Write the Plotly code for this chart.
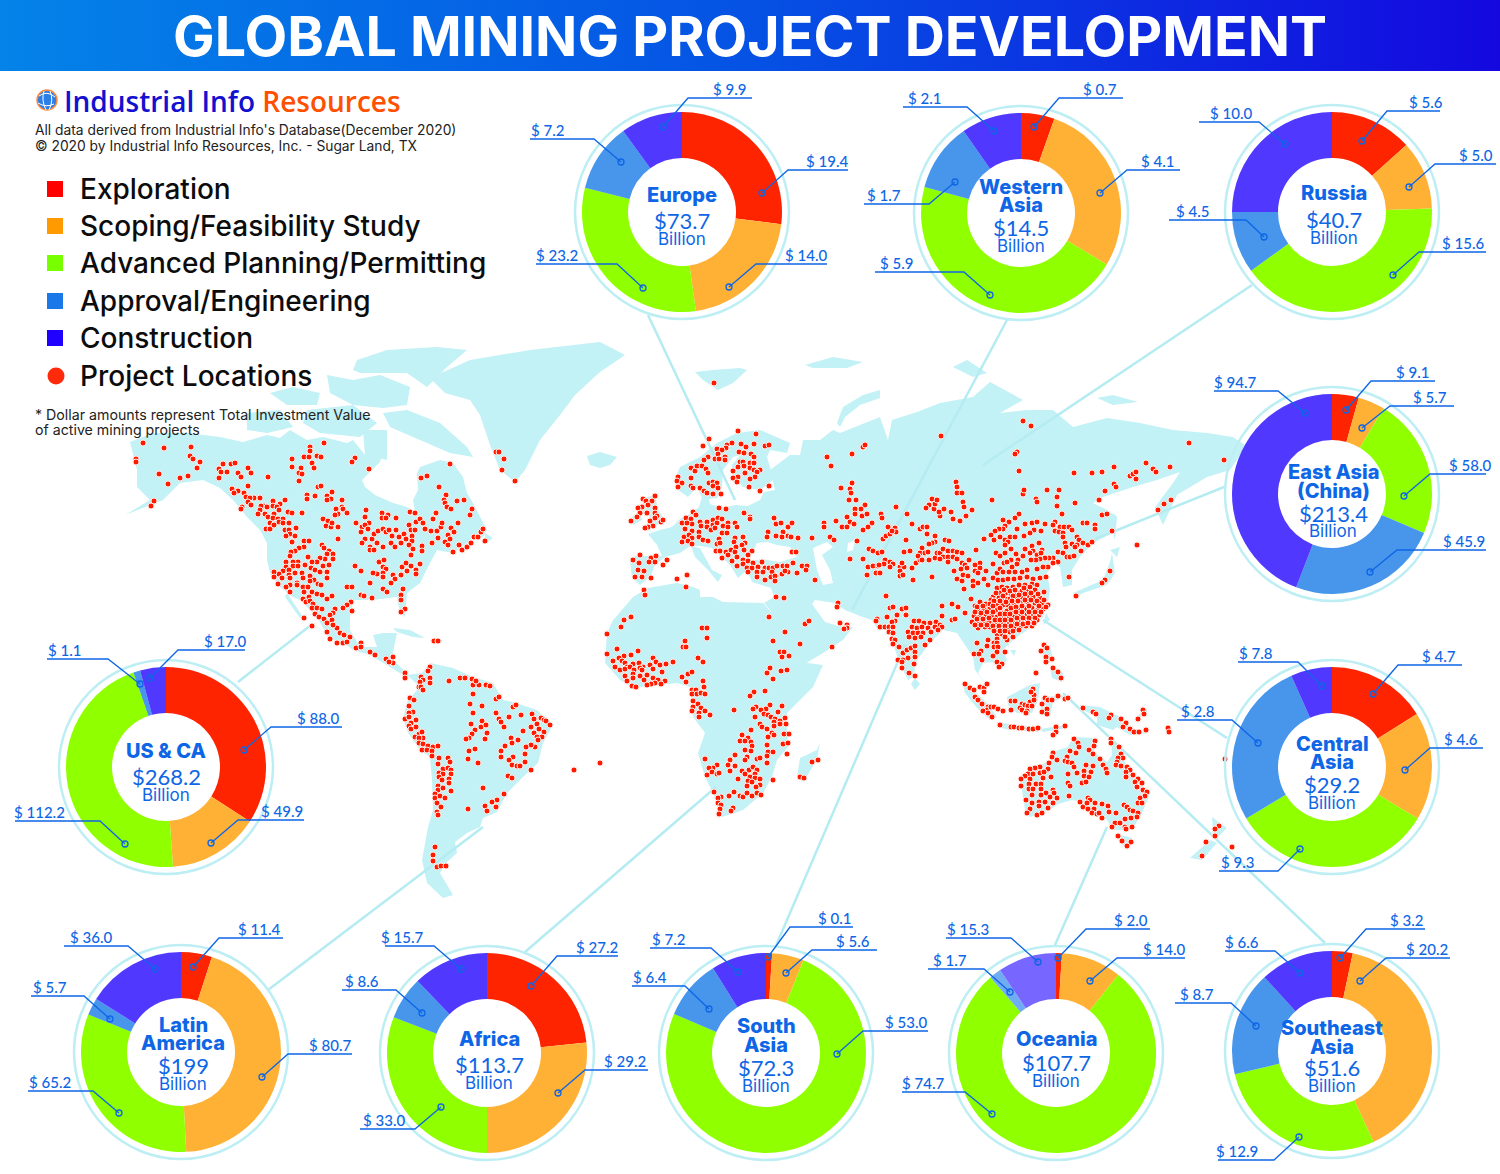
import plotly.graph_objects as go

W, H = 1500, 1174

# -- stages and money per region (billion USD), as printed
stages = ["Exploration", "Scoping/Feasibility Study", "Advanced Planning/Permitting",
          "Approval/Engineering", "Construction"]
regions = ["Europe", "Western Asia", "Russia", "East Asia (China)", "Central Asia", "US & CA",
           "Latin America", "Africa", "South Asia", "Oceania", "Southeast Asia"]
exploration = [19.4, 0.7, 5.6, 9.1, 4.7, 88.0, 11.4, 27.2, 0.1, 2.0, 3.2]
scoping = [14.0, 4.1, 5.0, 5.7, 4.6, 49.9, 80.7, 29.2, 5.6, 14.0, 20.2]
advanced = [23.2, 5.9, 15.6, 58.0, 9.3, 112.2, 65.2, 33.0, 53.0, 74.7, 12.9]
approval = [7.2, 1.7, 4.5, 45.9, 7.8, 1.1, 5.7, 8.6, 6.4, 1.7, 8.7]
construction = [9.9, 2.1, 10.0, 94.7, 2.8, 17.0, 36.0, 15.7, 7.2, 15.3, 6.6]
totals = ["$73.7", "$14.5", "$40.7", "$213.4", "$29.2", "$268.2", "$199", "$113.7", "$72.3", "$107.7", "$51.6"]

# the slices are not drawn quite to the printed numbers, so their sizes are read as
# angles off the picture: clockwise end of exploration, scoping, advanced, approval
slice_edges = [[97, 172, 284, 324], [19.5, 121, 285, 325], [48, 88, 234, 270], [15.5, 31, 113, 201],
               [58, 121, 239, 336], [123, 176, 341, 345], [18, 177, 292, 302], [84, 180, 291, 316],
               [3.5, 22, 293, 328], [3.4, 38.5, 319, 326], [12, 155.5, 256.5, 317.5]]

pie_centers = [(682, 212), (1021, 213), (1332, 212), (1332, 494), (1332, 767), (166, 767),
               (181, 1052), (487, 1053), (766, 1053), (1056, 1053), (1332, 1051)]
center_shift = [0, 0, 2, 1, 0, 0, 2, 2, 0, 0, 0]
center_titles = [["Europe"], ["Western", "Asia"], ["Russia"], ["East Asia", "(China)"], ["Central", "Asia"],
                 ["US & CA"], ["Latin", "America"], ["Africa"], ["South", "Asia"], ["Oceania"], ["Southeast", "Asia"]]
# y of each centre line: title line(s), total, "Billion"
center_rows = [[195, 220, 239], [187, 205, 227, 246], [193, 219, 238], [472, 491, 513, 531],
               [744, 762, 784, 803], [751, 776, 795], [1025, 1043, 1065, 1084], [1039, 1064, 1083],
               [1026, 1045, 1067, 1086], [1039, 1062, 1081], [1028, 1047, 1067, 1086]]

# -- callouts: text, text x, far end of underline, knee, underline y, dot x, dot y
callouts = [
    ("$ 9.9", 729, 752, 688, 98, 663, 127), ("$ 19.4", 827, 848, 788, 170, 762, 193),
    ("$ 14.0", 806, 827, 756, 264, 729, 287), ("$ 23.2", 557, 536, 617, 264, 643, 288),
    ("$ 7.2", 547, 530, 594, 139, 621, 162),
    ("$ 2.1", 924, 903, 967, 107, 994, 131), ("$ 0.7", 1100, 1123, 1059, 98, 1034, 127),
    ("$ 4.1", 1157, 1180, 1127, 170, 1100, 193), ("$ 1.7", 884, 864, 929, 204, 955, 182),
    ("$ 5.9", 896, 875, 964, 272, 990, 295),
    ("$ 10.0", 1231, 1199, 1259, 122, 1285, 144), ("$ 5.6", 1426, 1440, 1387, 111, 1362, 141),
    ("$ 5.0", 1476, 1496, 1435, 164, 1409, 187), ("$ 4.5", 1192, 1169, 1246, 220, 1264, 237),
    ("$ 15.6", 1463, 1486, 1419, 252, 1393, 275),
    ("$ 94.7", 1235, 1214, 1278, 391, 1305, 413), ("$ 9.1", 1412, 1435, 1371, 381, 1346, 410),
    ("$ 5.7", 1430, 1454, 1390, 406, 1362, 428), ("$ 58.0", 1470, 1486, 1430, 474, 1404, 496),
    ("$ 45.9", 1464, 1486, 1397, 550, 1370, 572),
    ("$ 4.7", 1439, 1462, 1398, 665, 1373, 694), ("$ 4.6", 1461, 1483, 1430, 748, 1405, 770),
    ("$ 7.8", 1256, 1238, 1298, 662, 1322, 686), ("$ 2.8", 1198, 1177, 1232, 720, 1258, 743),
    ("$ 9.3", 1237, 1219, 1278, 871, 1300, 849),
    ("$ 17.0", 225, 245, 178, 650, 150, 678), ("$ 1.1", 64, 47, 108, 659, 140, 684),
    ("$ 88.0", 318, 342, 271, 727, 244, 750), ("$ 49.9", 282, 304, 238, 820, 211, 843),
    ("$ 112.2", 39, 15, 100, 821, 125, 844),
    ("$ 36.0", 91, 64, 128, 946, 155, 969), ("$ 11.4", 259, 283, 219, 938, 193, 967),
    ("$ 5.7", 50, 31, 84, 996, 110, 1019), ("$ 80.7", 330, 352, 288, 1054, 262, 1077),
    ("$ 65.2", 50, 28, 93, 1091, 119, 1113),
    ("$ 15.7", 402, 385, 434, 946, 461, 969), ("$ 27.2", 597, 618, 557, 956, 531, 986),
    ("$ 8.6", 362, 342, 396, 990, 422, 1013), ("$ 29.2", 625, 648, 585, 1070, 558, 1093),
    ("$ 33.0", 384, 360, 415, 1129, 441, 1107),
    ("$ 0.1", 834, 853, 790, 927, 768, 957), ("$ 5.6", 853, 877, 812, 950, 786, 973),
    ("$ 7.2", 668, 650, 711, 948, 738, 972), ("$ 6.4", 650, 632, 685, 986, 709, 1009),
    ("$ 53.0", 906, 928, 863, 1031, 837, 1054), ("$ 74.7", 923, 902, 965, 1092, 992, 1114),
    ("$ 15.3", 968, 946, 1011, 938, 1038, 962), ("$ 2.0", 1131, 1150, 1086, 929, 1058, 958),
    ("$ 14.0", 1164, 1185, 1117, 958, 1090, 981), ("$ 1.7", 950, 928, 984, 969, 1010, 992),
    ("$ 6.6", 1242, 1225, 1275, 951, 1300, 973), ("$ 3.2", 1406, 1425, 1366, 929, 1340, 958),
    ("$ 20.2", 1427, 1450, 1386, 958, 1360, 981), ("$ 8.7", 1197, 1175, 1231, 1003, 1256, 1026),
    ("$ 12.9", 1237, 1218, 1274, 1160, 1299, 1137),
]

# -- pale lines tying each donut to its region
connectors = [[(648, 315), (735, 500)], [(1007, 320), (852, 610)], [(1252, 285), (983, 465)],
              [(1224, 487), (1095, 539)], [(1227, 738), (1043, 620)], [(238, 682), (311, 625)],
              [(268, 990), (483, 827)], [(525, 952), (716, 787)], [(775, 948), (905, 645)],
              [(1055, 945), (1107, 827)], [(1325, 943), (1063, 693)]]

# -- land outlines in page pixels
land = [
    # north america
    [(130, 442), (153, 433), (187, 433), (220, 437), (243, 442), (267, 435), (280, 438), (290, 430), (307, 440),
     (323, 437), (347, 443), (353, 440), (365, 455), (383, 450), (380, 462), (362, 480), (365, 487), (375, 495),
     (393, 503), (407, 507), (415, 512), (413, 500), (418, 490), (417, 473), (420, 467), (440, 460), (453, 463),
     (463, 477), (467, 493), (473, 503), (487, 530), (483, 537), (473, 537), (467, 543), (453, 553), (437, 550),
     (430, 563), (420, 583), (407, 593), (405, 617), (400, 613), (397, 597), (373, 600), (353, 600), (350, 617),
     (350, 630), (360, 647), (377, 647), (373, 635), (383, 633), (397, 633), (393, 652), (393, 660), (407, 673),
     (408, 680), (403, 675), (390, 667), (370, 655), (353, 650), (340, 640), (330, 640), (317, 617), (300, 600),
     (293, 597), (280, 587), (270, 573), (267, 560), (267, 543), (260, 530), (247, 517), (233, 500), (220, 488),
     (203, 480), (180, 483), (163, 500), (125, 515), (150, 500), (137, 487), (137, 470)],
    [(287, 593), (303, 617), (300, 618), (285, 597)],
    [(357, 360), (387, 350), (437, 347), (467, 350), (447, 367), (427, 387), (407, 373), (380, 373), (360, 373), (353, 370)],
    [(270, 393), (293, 387), (320, 393), (317, 405), (287, 405)],
    [(327, 375), (353, 380), (380, 375), (410, 387), (407, 405), (383, 408), (353, 405), (330, 393)],
    [(383, 413), (407, 410), (440, 423), (467, 447), (473, 457), (450, 453), (420, 440), (390, 427)],
    [(307, 410), (353, 405), (377, 423), (360, 437), (320, 433), (303, 423)],
    [(247, 413), (280, 410), (293, 427), (267, 433), (247, 430)],
    [(363, 430), (387, 430), (387, 460), (365, 455)],
    [(485, 533), (493, 538), (485, 543)],
    [(393, 628), (410, 630), (425, 638), (413, 637), (397, 632)],
    [(430, 640), (443, 640), (440, 644), (432, 644)],
    # greenland, iceland
    [(430, 378), (470, 360), (530, 350), (600, 342), (625, 355), (600, 372), (575, 395), (560, 415), (540, 440),
     (525, 470), (515, 482), (500, 470), (490, 445), (480, 415), (470, 400), (445, 393)],
    [(587, 456), (600, 452), (617, 457), (610, 465), (600, 468), (590, 465)],
    # south america
    [(407, 675), (422, 673), (430, 663), (453, 668), (473, 677), (493, 683), (503, 700), (513, 702), (537, 710),
     (553, 725), (543, 743), (538, 763), (523, 777), (507, 793), (497, 812), (483, 818), (480, 827), (467, 833),
     (455, 842), (457, 853), (447, 862), (440, 873), (453, 895), (443, 898), (427, 883), (422, 860), (428, 827),
     (433, 810), (432, 780), (430, 757), (420, 750), (408, 733), (403, 718), (408, 700), (420, 687)],
    # africa
    [(615, 618), (633, 597), (648, 588), (677, 583), (693, 587), (700, 590), (700, 597), (713, 597), (723, 602),
     (763, 603), (787, 630), (800, 662), (823, 665), (813, 687), (787, 713), (787, 723), (788, 747), (777, 760),
     (772, 777), (763, 793), (743, 810), (722, 817), (713, 793), (705, 777), (698, 753), (705, 733), (693, 717),
     (690, 687), (677, 683), (657, 685), (633, 688), (620, 680), (605, 663), (607, 633), (613, 620)],
    [(820, 742), (817, 760), (803, 782), (797, 777), (800, 758), (817, 750)],
    # eurasia
    [(632, 578), (630, 560), (635, 556), (655, 556), (662, 556), (657, 545), (648, 534), (660, 530), (672, 527),
     (680, 519), (693, 512), (699, 507), (702, 497), (708, 492), (710, 504), (722, 508), (736, 505), (748, 506),
     (760, 500), (764, 492), (775, 490), (770, 470), (790, 455), (800, 455), (803, 440), (820, 440), (833, 430),
     (840, 433), (860, 425), (880, 417), (888, 440), (892, 420), (917, 412), (940, 403), (973, 397), (990, 382),
     (1023, 400), (1000, 413), (1027, 410), (1053, 410), (1073, 427), (1107, 418), (1140, 423), (1173, 430),
     (1207, 433), (1233, 437), (1245, 445), (1240, 455), (1230, 470), (1207, 477), (1177, 495), (1163, 525),
     (1155, 507), (1173, 483), (1180, 472), (1157, 480), (1133, 487), (1103, 497), (1093, 503), (1107, 510),
     (1117, 517), (1112, 533), (1093, 543), (1080, 557), (1072, 570), (1072, 585), (1063, 587), (1060, 567),
     (1053, 563), (1047, 573), (1050, 590), (1048, 603), (1043, 617), (1027, 630), (1013, 640), (1003, 650),
     (1007, 660), (1000, 670), (992, 662), (983, 663), (978, 673), (988, 687), (975, 670), (973, 657), (957, 633),
     (943, 630), (930, 643), (917, 660), (913, 677), (908, 680), (900, 665), (892, 640), (888, 630), (878, 630),
     (872, 620), (860, 616), (845, 610), (835, 603), (815, 600), (812, 604), (825, 622), (838, 626), (853, 627),
     (843, 640), (823, 653), (803, 665), (798, 660), (787, 637), (770, 610), (764, 603), (774, 597), (771, 588),
     (752, 582), (747, 570), (738, 578), (730, 565), (712, 548), (700, 546), (690, 546), (680, 553), (665, 557),
     (655, 565), (650, 577), (640, 585)],
    # scandinavia
    [(675, 478), (680, 467), (700, 457), (717, 443), (737, 433), (760, 430), (790, 443), (787, 453), (770, 450),
     (767, 457), (770, 467), (773, 480), (760, 490), (743, 487), (733, 477), (732, 465), (740, 455), (733, 457),
     (723, 470), (722, 487), (717, 498), (703, 500), (697, 487), (688, 497), (678, 490)],
    [(691, 546), (700, 548), (712, 570), (722, 575), (718, 582), (708, 570), (695, 557)],
    [(643, 498), (655, 495), (658, 510), (665, 520), (657, 525), (645, 530), (650, 517), (642, 512)],
    [(632, 517), (640, 510), (642, 520), (633, 525)],
    [(695, 372), (713, 370), (740, 368), (747, 370), (733, 383), (718, 390), (703, 380)],
    [(805, 365), (833, 357), (863, 362), (847, 368), (813, 368)],
    [(953, 367), (967, 360), (987, 373), (973, 377)],
    [(1097, 398), (1113, 395), (1138, 402), (1113, 405)],
    [(837, 423), (843, 407), (863, 395), (880, 390), (880, 398), (860, 405), (845, 417), (840, 427)],
    # japan, sakhalin and the small ones
    [(1073, 593), (1103, 580), (1110, 562), (1112, 553), (1115, 573), (1107, 585), (1083, 593), (1075, 598)],
    [(1110, 550), (1120, 547), (1117, 557)],
    [(1113, 513), (1117, 517), (1115, 540), (1112, 530)],
    [(1046, 613), (1050, 620), (1043, 625)],
    [(915, 678), (920, 684), (915, 690), (911, 684)],
    [(1010, 650), (1016, 650), (1014, 656)],
    # maritime asia
    [(1042, 645), (1050, 645), (1052, 655), (1048, 665), (1043, 658)],
    [(1050, 667), (1063, 673), (1062, 682), (1052, 678)],
    [(962, 682), (970, 687), (987, 703), (997, 717), (990, 720), (977, 708), (965, 693)],
    [(997, 722), (1017, 725), (1038, 728), (1038, 732), (1010, 730), (997, 727)],
    [(1040, 729), (1065, 725), (1067, 728), (1043, 732)],
    [(1007, 697), (1030, 685), (1040, 683), (1038, 700), (1032, 713), (1017, 713), (1008, 705)],
    [(1042, 697), (1068, 695), (1053, 702), (1050, 715), (1042, 715), (1040, 705)],
    [(1080, 705), (1100, 707), (1120, 717), (1132, 728), (1147, 733), (1130, 735), (1117, 727), (1113, 730),
     (1097, 725), (1097, 717), (1083, 710)],
    [(1135, 718), (1147, 708), (1147, 715)],
    # australia, new zealand
    [(1020, 777), (1050, 760), (1052, 752), (1068, 747), (1073, 737), (1098, 738), (1094, 752), (1107, 762),
     (1112, 755), (1111, 737), (1120, 750), (1127, 767), (1147, 790), (1149, 797), (1140, 817), (1132, 830),
     (1113, 830), (1107, 820), (1098, 815), (1087, 803), (1072, 800), (1058, 804), (1050, 810), (1030, 817),
     (1025, 810), (1022, 790)],
    [(1117, 834), (1132, 838), (1127, 848), (1120, 843)],
    [(1212, 817), (1227, 828), (1217, 838), (1213, 833)],
    [(1190, 858), (1210, 840), (1217, 843), (1202, 860)],
]
inland_seas = [
    [(752, 553), (757, 543), (767, 542), (777, 545), (790, 547), (797, 557), (780, 562), (767, 560), (747, 560)],
    [(813, 548), (827, 542), (833, 547), (822, 555), (830, 570), (833, 583), (823, 585), (817, 570)],
    [(848, 543), (855, 540), (853, 550), (847, 552)],
]

# -- project locations, by hand from the map
sites_north_america = [
    (143, 443), (164, 448), (191, 447), (136, 459), (136, 462), (190, 456), (193, 459), (200, 462), (197, 468), (159, 474),
    (188, 476), (180, 478), (168, 484), (154, 501), (151, 506), (223, 464), (219, 469), (221, 472), (227, 472), (231, 464),
    (235, 463), (219, 478), (238, 473), (241, 477), (248, 468), (251, 473), (268, 477), (292, 459), (292, 467), (301, 468),
    (299, 473), (302, 474), (299, 481), (304, 457), (309, 457), (310, 447), (310, 451), (324, 443), (317, 456), (321, 457),
    (312, 463), (314, 468), (355, 458), (352, 462), (369, 469), (421, 478), (427, 476), (450, 464), (439, 487), (496, 452),
    (499, 452), (504, 459), (502, 470), (515, 481), (248, 486), (232, 489), (238, 491), (234, 493), (244, 493), (246, 497),
    (254, 498), (260, 498), (250, 498), (248, 502), (251, 505), (242, 507), (241, 509), (285, 500), (273, 501), (264, 506),
    (267, 507), (261, 506), (260, 510), (258, 514), (265, 514), (268, 517), (273, 506), (280, 504), (277, 507), (279, 510),
    (274, 514), (273, 518), (270, 523), (278, 519), (283, 519), (279, 522), (283, 523), (289, 523), (288, 512), (292, 513),
    (302, 513), (266, 529), (270, 529), (274, 525), (285, 530), (289, 530), (296, 528), (290, 534), (286, 536), (295, 536),
    (292, 542), (318, 487), (321, 486), (315, 496), (307, 495), (307, 499), (332, 492), (327, 496), (331, 499), (327, 500),
    (342, 500), (342, 507), (336, 509), (343, 509), (347, 513), (338, 514), (335, 515), (338, 527), (323, 519), (328, 521),
    (326, 526), (331, 527), (332, 523), (338, 539), (366, 510), (365, 517), (356, 523), (362, 527), (369, 523), (365, 525),
    (368, 529), (361, 532), (365, 539), (362, 543), (372, 539), (374, 534), (378, 531), (383, 529), (386, 532), (377, 543),
    (370, 547), (370, 550), (374, 550), (382, 513), (388, 515), (382, 518), (386, 518), (396, 518), (389, 530), (396, 530),
    (392, 536), (383, 547), (391, 543), (395, 547), (399, 537), (401, 543), (404, 534), (406, 539), (410, 512), (415, 513),
    (409, 525), (411, 530), (416, 522), (420, 519), (415, 530), (412, 536), (412, 541), (409, 545), (413, 549), (422, 546),
    (422, 551), (411, 555), (425, 529), (423, 523), (433, 519), (436, 513), (431, 531), (437, 531), (441, 527), (442, 523),
    (438, 538), (432, 543), (445, 542), (448, 535), (451, 528), (454, 532), (450, 539), (448, 545), (453, 552), (459, 545),
    (462, 550), (467, 547), (471, 543), (474, 537), (478, 537), (481, 532), (483, 529), (485, 541), (458, 523), (446, 495),
    (444, 500), (445, 503), (447, 507), (451, 509), (457, 501), (464, 500), (472, 509), (470, 515), (304, 541), (309, 541),
    (304, 547), (299, 548), (295, 551), (291, 552), (290, 556), (308, 557), (322, 545), (324, 548), (329, 551), (333, 554),
    (327, 554), (325, 559), (320, 558), (333, 559), (317, 562), (312, 562), (305, 565), (298, 562), (293, 562), (286, 562),
    (286, 567), (283, 571), (293, 566), (298, 566), (289, 570), (279, 574), (274, 572), (274, 577), (278, 584), (282, 578),
    (289, 575), (290, 578), (295, 573), (302, 573), (303, 578), (297, 583), (290, 585), (286, 587), (290, 592), (297, 585),
    (303, 587), (310, 576), (311, 568), (315, 570), (320, 572), (323, 566), (329, 565), (327, 572), (327, 578), (314, 580),
    (318, 584), (321, 585), (310, 581), (308, 587), (304, 592), (312, 592), (317, 594), (322, 595), (355, 566), (361, 571),
    (379, 562), (384, 560), (383, 567), (386, 569), (383, 573), (377, 574), (373, 573), (383, 577), (370, 583), (393, 575),
    (395, 579), (391, 583), (401, 575), (402, 567), (406, 563), (411, 566), (420, 564), (416, 570), (407, 571), (416, 574),
    (347, 587), (352, 587), (361, 595), (364, 596), (372, 598), (383, 589), (387, 592), (403, 589), (401, 595), (401, 600),
    (405, 609), (401, 612), (327, 599), (332, 596), (351, 602), (347, 605), (343, 608), (335, 609), (352, 611), (333, 613),
    (304, 618), (312, 626), (303, 599), (306, 602), (309, 597), (310, 601), (313, 604), (312, 608), (317, 608), (322, 609),
    (315, 614), (319, 617), (324, 619), (330, 615), (327, 623), (332, 620), (337, 628), (333, 625), (327, 632), (330, 639),
    (337, 643), (340, 633), (344, 635), (343, 643), (347, 642), (350, 637), (356, 648), (361, 643), (361, 647), (370, 652),
    (375, 655), (386, 659), (393, 657), (393, 663), (389, 662), (405, 673), (405, 678), (434, 641), (438, 641),
]
sites_south_america = [
    (430, 667), (428, 671), (430, 678), (430, 683), (421, 677), (423, 680), (420, 682), (419, 687), (421, 687), (423, 690),
    (449, 681), (460, 678), (465, 678), (472, 679), (473, 685), (479, 685), (476, 681), (486, 685), (490, 686), (473, 694),
    (496, 699), (499, 697), (470, 704), (482, 706), (473, 713), (496, 713), (513, 707), (516, 705), (499, 719), (501, 722),
    (504, 727), (509, 717), (521, 715), (532, 714), (534, 719), (541, 718), (544, 720), (546, 721), (550, 725), (537, 724),
    (531, 727), (539, 729), (534, 733), (544, 732), (542, 737), (537, 737), (538, 740), (523, 731), (518, 740), (511, 738),
    (512, 743), (535, 747), (531, 745), (526, 747), (525, 754), (505, 746), (501, 751), (501, 757), (513, 757), (509, 760),
    (512, 765), (517, 766), (520, 766), (525, 762), (531, 770), (508, 776), (512, 778), (471, 724), (482, 721), (475, 730),
    (472, 734), (469, 738), (466, 739), (481, 727), (486, 725), (487, 733), (485, 739), (469, 751), (475, 749), (468, 759),
    (478, 763), (483, 788), (504, 794), (497, 800), (492, 802), (485, 806), (496, 807), (487, 811), (468, 809), (574, 770),
    (600, 763), (410, 698), (414, 700), (409, 706), (413, 712), (409, 713), (405, 719), (409, 717), (416, 720), (411, 723),
    (409, 726), (411, 729), (416, 727), (419, 734), (422, 732), (423, 738), (415, 737), (419, 738), (419, 743), (423, 744),
    (428, 746), (433, 747), (438, 746), (422, 750), (427, 750), (432, 751), (432, 756), (439, 758), (448, 758), (450, 762),
    (438, 764), (443, 769), (448, 768), (451, 770), (439, 773), (443, 774), (451, 774), (439, 777), (442, 780), (449, 779),
    (449, 783), (438, 786), (438, 790), (443, 788), (451, 791), (435, 794), (435, 798), (440, 796), (445, 798), (437, 803),
    (441, 807), (437, 812), (438, 815), (435, 847), (433, 855), (433, 861), (437, 867), (441, 866), (446, 866),
]
sites_europe = [
    (714, 383), (738, 431), (756, 434), (709, 439), (703, 446), (727, 445), (732, 443), (726, 448), (741, 444), (746, 447),
    (754, 444), (765, 446), (769, 445), (717, 449), (722, 450), (739, 452), (744, 453), (751, 454), (754, 457), (718, 454),
    (725, 457), (708, 457), (704, 460), (715, 459), (719, 459), (725, 460), (740, 462), (743, 462), (750, 463), (754, 463),
    (691, 468), (695, 471), (697, 466), (702, 466), (706, 469), (708, 473), (738, 467), (744, 466), (750, 468), (754, 470),
    (760, 470), (733, 471), (745, 473), (757, 472), (755, 477), (738, 477), (733, 478), (737, 482), (750, 479), (749, 487),
    (760, 491), (769, 486), (678, 477), (691, 478), (677, 481), (682, 483), (678, 487), (691, 486), (693, 488), (700, 488),
    (709, 483), (713, 482), (717, 483), (713, 486), (718, 488), (704, 491), (707, 493), (713, 494), (721, 494), (655, 496),
    (643, 499), (646, 501), (652, 501), (648, 505), (642, 507), (638, 508), (640, 513), (637, 517), (631, 521), (647, 513),
    (655, 508), (655, 513), (657, 516), (650, 521), (655, 518), (661, 522), (663, 520), (653, 526), (648, 527), (645, 528),
    (719, 508), (726, 509), (693, 512), (696, 515), (686, 518), (691, 519), (682, 523), (692, 524), (687, 523), (700, 522),
    (707, 522), (713, 520), (718, 518), (722, 519), (728, 523), (735, 523), (737, 527), (744, 513), (750, 517), (750, 519),
    (701, 526), (707, 527), (713, 525), (717, 523), (723, 526), (728, 527), (685, 529), (692, 531), (699, 532), (711, 530),
    (715, 528), (684, 537), (682, 542), (689, 535), (692, 538), (688, 541), (699, 537), (703, 540), (708, 541), (692, 544),
    (722, 533), (727, 533), (719, 539), (717, 544), (720, 543), (735, 538), (743, 537), (734, 542), (745, 543), (742, 545),
    (716, 551), (720, 551), (726, 552), (731, 550), (736, 547), (735, 552), (744, 550), (752, 551), (722, 558), (728, 555),
    (737, 557), (748, 555), (732, 561), (737, 566), (743, 560), (748, 561), (743, 564), (753, 563), (762, 562), (747, 568),
    (752, 568), (758, 567), (765, 568), (769, 568), (773, 568), (777, 566), (783, 566), (787, 566), (788, 572), (748, 572),
    (757, 572), (763, 572), (772, 572), (776, 576), (782, 574), (785, 571), (757, 577), (765, 580), (771, 577), (775, 576),
    (775, 581), (797, 573), (793, 563), (802, 566), (807, 566), (806, 570), (792, 552), (796, 552), (815, 580), (774, 518),
    (776, 524), (781, 523), (788, 527), (792, 523), (768, 532), (767, 537), (776, 536), (783, 532), (782, 537), (788, 536),
    (791, 537), (798, 538), (812, 538), (830, 537), (834, 540), (640, 555), (633, 560), (639, 563), (651, 558), (656, 556),
    (655, 562), (649, 562), (667, 560), (663, 565), (638, 570), (644, 571), (635, 577), (642, 577), (651, 578), (677, 579),
    (687, 575), (686, 587), (644, 590), (645, 595),
]
sites_africa = [
    (631, 617), (624, 620), (621, 627), (607, 634), (702, 628), (707, 628), (707, 638), (685, 641), (683, 647), (686, 647),
    (769, 617), (617, 649), (638, 651), (607, 654), (613, 661), (624, 656), (631, 655), (619, 658), (622, 661), (615, 667),
    (625, 663), (627, 667), (633, 664), (620, 670), (625, 669), (630, 667), (639, 663), (643, 667), (640, 668), (634, 670),
    (642, 670), (650, 665), (653, 658), (656, 662), (653, 669), (660, 665), (666, 664), (673, 662), (662, 672), (633, 674),
    (625, 676), (633, 678), (640, 676), (647, 675), (627, 681), (644, 680), (653, 678), (658, 680), (665, 681), (655, 683),
    (651, 684), (647, 685), (661, 684), (632, 686), (636, 687), (698, 658), (703, 662), (682, 677), (688, 674), (692, 672),
    (686, 682), (703, 681), (704, 687), (692, 690), (696, 690), (692, 694), (697, 694), (701, 693), (705, 694), (693, 701),
    (698, 704), (693, 707), (692, 711), (701, 708), (705, 711), (699, 713), (699, 717), (710, 715), (734, 710), (773, 641),
    (785, 632), (780, 652), (784, 652), (782, 657), (789, 656), (770, 668), (767, 673), (781, 671), (787, 670), (773, 679),
    (765, 691), (754, 692), (750, 696), (756, 707), (753, 709), (770, 705), (766, 709), (761, 710), (782, 706), (778, 712),
    (755, 717), (764, 714), (768, 715), (771, 717), (775, 719), (785, 718), (780, 721), (774, 722), (786, 724), (780, 724),
    (760, 724), (762, 727), (767, 729), (774, 726), (751, 730), (772, 733), (768, 737), (774, 735), (784, 734), (789, 734),
    (742, 735), (748, 738), (740, 741), (745, 741), (751, 742), (752, 746), (767, 745), (783, 744), (788, 743), (745, 750),
    (751, 751), (768, 752), (773, 752), (767, 756), (787, 754), (735, 755), (705, 759), (747, 757), (745, 760), (757, 759),
    (760, 758), (767, 763), (730, 760), (728, 765), (735, 766), (717, 765), (713, 768), (709, 768), (712, 772), (707, 775),
    (717, 774), (719, 773), (730, 771), (742, 771), (749, 770), (753, 767), (757, 770), (745, 774), (750, 777), (755, 774),
    (755, 778), (760, 779), (738, 779), (748, 781), (752, 782), (760, 785), (747, 786), (756, 787), (773, 780), (800, 777),
    (804, 778), (812, 762), (818, 760), (734, 792), (729, 796), (740, 796), (743, 797), (747, 793), (752, 796), (757, 793),
    (761, 795), (714, 792), (721, 797), (718, 798), (718, 803), (721, 805), (720, 809), (719, 814), (733, 808), (731, 811),
]
sites_asia = [
    (776, 597), (784, 598), (631, 617), (838, 603), (837, 607), (805, 624), (809, 621), (800, 644), (840, 623), (847, 625),
    (847, 628), (844, 629), (832, 647), (827, 457), (831, 466), (852, 454), (863, 447), (865, 445), (852, 483), (841, 488),
    (850, 489), (851, 493), (849, 500), (856, 500), (865, 505), (861, 509), (855, 509), (855, 514), (847, 517), (862, 516),
    (867, 514), (850, 522), (854, 524), (872, 523), (868, 527), (863, 530), (836, 521), (842, 527), (847, 527), (824, 523),
    (824, 527), (857, 541), (869, 549), (873, 551), (878, 553), (850, 559), (863, 559), (868, 567), (873, 566), (878, 566),
    (867, 575), (876, 573), (941, 436), (1023, 421), (1031, 426), (1017, 452), (1015, 454), (1019, 471), (1074, 473),
    (1092, 473), (1102, 472), (1114, 467), (1130, 476), (1133, 474), (1136, 472), (1136, 479), (1146, 463), (1153, 469),
    (1156, 472), (1170, 467), (1189, 443), (1224, 460), (1114, 484), (1116, 487), (1105, 491), (1099, 500), (1171, 500),
    (1164, 504), (1158, 510), (1102, 515), (1107, 514), (956, 482), (957, 487), (957, 493), (962, 493), (963, 502),
    (964, 507), (972, 510), (966, 516), (960, 521), (953, 519), (951, 512), (944, 509), (940, 516), (939, 512), (934, 509),
    (932, 499), (935, 504), (929, 505), (926, 508), (937, 500), (992, 500), (1023, 494), (1024, 490), (1047, 490),
    (1059, 490), (1057, 497), (1057, 506), (1062, 514), (1075, 503), (1036, 499), (1037, 502), (1019, 514), (1015, 518),
    (1009, 522), (1003, 520), (1005, 526), (1003, 529), (999, 529), (995, 531), (991, 535), (984, 539), (994, 540),
    (1000, 537), (1005, 540), (1010, 537), (1015, 537), (1017, 529), (1025, 524), (1032, 523), (1037, 522), (1045, 524),
    (1055, 522), (1053, 525), (1060, 527), (1064, 527), (1069, 527), (1072, 530), (1083, 523), (1087, 523), (1095, 525),
    (1095, 529), (1112, 531), (1055, 531), (1059, 532), (1063, 533), (1063, 537), (1041, 531), (1034, 530), (1030, 533),
    (1024, 536), (1008, 542), (1005, 545), (1011, 549), (1025, 549), (1032, 546), (1039, 543), (1042, 550), (1033, 551),
    (1030, 553), (1037, 555), (1041, 553), (996, 553), (1000, 556), (1005, 553), (1016, 554), (1065, 543), (1066, 547),
    (1072, 544), (1077, 537), (1079, 540), (1077, 545), (1083, 543), (1088, 545), (1092, 542), (1081, 551), (1075, 547),
    (1058, 552), (1063, 553), (1067, 557), (1070, 557), (1074, 556), (1053, 558), (1049, 558), (1045, 558), (1040, 559),
    (1036, 560), (1031, 560), (1023, 556), (1018, 560), (1058, 562), (1053, 563), (1048, 567), (1043, 567), (1037, 569),
    (1027, 570), (1017, 564), (1011, 560), (1004, 563), (993, 564), (976, 550), (883, 539), (886, 536), (890, 534),
    (888, 527), (895, 528), (896, 532), (892, 531), (906, 540), (912, 524), (907, 514), (896, 507), (920, 529), (923, 527),
    (927, 527), (927, 534), (935, 536), (945, 540), (949, 541), (935, 542), (932, 543), (929, 544), (881, 514), (882, 518),
    (882, 552), (885, 560), (890, 562), (893, 564), (890, 567), (884, 564), (879, 565), (880, 573), (900, 567), (904, 567),
    (900, 571), (900, 576), (903, 575), (913, 580), (932, 577), (904, 552), (910, 551), (902, 563), (916, 563), (912, 568),
    (920, 560), (922, 548), (920, 553), (918, 556), (925, 553), (928, 552), (922, 560), (929, 560), (935, 558), (937, 553),
    (940, 553), (943, 549), (948, 551), (943, 557), (948, 557), (953, 551), (957, 552), (953, 557), (948, 562), (940, 559),
    (962, 553), (957, 559), (962, 563), (969, 560), (965, 565), (961, 569), (954, 571), (967, 568), (957, 579), (962, 581),
    (963, 575), (968, 576), (964, 589), (886, 596), (980, 563), (975, 565), (980, 568), (986, 571), (975, 571), (978, 573),
    (984, 579), (973, 581), (978, 583), (973, 586), (988, 585), (993, 578), (997, 573), (1000, 569), (1007, 562), (1012, 567),
    (1003, 572), (1009, 572), (1015, 572), (1022, 572), (998, 580), (1003, 580), (1008, 579), (1014, 579), (1020, 578),
    (1027, 577), (1033, 579), (1040, 578), (1046, 577), (997, 588), (1002, 587), (1007, 588), (1013, 587), (1019, 585),
    (1025, 585), (1032, 584), (1037, 585), (1000, 593), (1006, 593), (1011, 594), (1017, 593), (1022, 591), (1028, 590),
    (1035, 590), (1044, 592), (993, 597), (999, 598), (1005, 599), (1010, 599), (1015, 598), (1021, 597), (1027, 597),
    (1033, 597), (1040, 598), (971, 599), (991, 600), (980, 602), (986, 604), (975, 606), (997, 604), (1003, 605), (1008, 605),
    (1014, 604), (1022, 603), (1028, 603), (1035, 603), (1042, 603), (1048, 605), (978, 611), (984, 609), (990, 608),
    (996, 610), (1002, 613), (1007, 611), (1013, 611), (1018, 609), (1025, 609), (1032, 608), (1038, 609), (1043, 609),
    (974, 616), (980, 616), (986, 615), (992, 615), (997, 617), (1003, 617), (1008, 617), (1014, 617), (1020, 615),
    (1027, 615), (1033, 615), (1039, 615), (972, 622), (977, 622), (983, 622), (989, 622), (995, 623), (1001, 623),
    (1007, 623), (1013, 623), (1018, 621), (1025, 621), (1031, 620), (1037, 620), (978, 628), (985, 627), (990, 627),
    (997, 628), (1003, 629), (1008, 628), (1014, 628), (1020, 627), (1026, 626), (1032, 626), (997, 634), (1002, 634),
    (1010, 632), (1013, 637), (1007, 640), (997, 639), (977, 643), (988, 640), (987, 646), (994, 643), (997, 643), (994, 647),
    (998, 647), (981, 651), (974, 654), (979, 654), (997, 652), (1005, 652), (993, 656), (982, 660), (997, 662), (1002, 664),
    (999, 667), (1036, 673), (1137, 545), (1110, 571), (1105, 580), (1102, 583), (1069, 577), (1076, 596), (1044, 645),
    (1047, 648), (1041, 651), (1046, 657), (1052, 659), (1046, 662), (1053, 668), (1058, 672), (1061, 678), (942, 606),
    (952, 604), (958, 607), (965, 613), (942, 616), (952, 620), (955, 619), (890, 608), (893, 607), (902, 609), (906, 608),
    (897, 615), (906, 615), (877, 619), (887, 617), (895, 621), (892, 622), (876, 621), (880, 627), (885, 627), (889, 627),
    (893, 627), (889, 632), (893, 633), (892, 639), (895, 640), (893, 644), (899, 647), (903, 653), (907, 650), (911, 648),
    (915, 652), (915, 657), (908, 658), (903, 660), (898, 660), (902, 662), (914, 664), (902, 668), (909, 673), (915, 676),
    (914, 621), (919, 621), (924, 623), (930, 623), (936, 622), (940, 625), (912, 627), (917, 628), (922, 627), (928, 628),
    (935, 627), (942, 627), (908, 632), (913, 633), (918, 633), (923, 633), (931, 632), (938, 630), (909, 637), (915, 638),
    (921, 637), (930, 640), (925, 645), (915, 646), (965, 684), (970, 688), (974, 690), (980, 687), (984, 688), (987, 684),
    (984, 692), (975, 697), (978, 700), (982, 704), (988, 707), (987, 710), (991, 707), (994, 707), (998, 709), (1003, 711),
    (1011, 710), (983, 711), (988, 713), (992, 717), (1011, 701), (1015, 701), (1022, 704), (1020, 708), (1025, 705),
    (1030, 702), (1028, 706), (1022, 710), (1027, 711), (1032, 706), (1026, 713), (1033, 689), (1034, 695), (1034, 700),
    (1031, 692), (1045, 698), (1048, 700), (1052, 700), (1058, 696), (1065, 699), (1068, 698), (1042, 704), (1042, 712),
    (1047, 709), (1047, 714), (1000, 725), (1011, 727), (1014, 727), (1019, 728), (1022, 728), (1029, 729), (1033, 729),
    (1038, 728), (1056, 727), (1056, 732), (1053, 735), (1065, 726),
    # the thick of southern china, between the rows above
    (1004, 590), (1010, 591), (1015, 590), (1024, 588), (1030, 587), (996, 593), (1003, 596), (1013, 596), (1019, 595),
    (1025, 594), (1031, 593), (1038, 594), (990, 604), (994, 601), (1000, 601), (1006, 602), (1012, 601), (1018, 601),
    (1025, 600), (1031, 600), (1037, 601), (1044, 600), (977, 607), (983, 606), (993, 606), (1000, 608), (1011, 608),
    (1016, 607), (1022, 606), (1029, 606), (1039, 606), (1046, 607), (975, 612), (981, 613), (987, 612), (993, 612),
    (1000, 614), (1005, 614), (1010, 614), (1016, 612), (1022, 612), (1029, 612), (1035, 612), (1041, 612), (977, 619),
    (983, 619), (989, 618), (995, 620), (1000, 620), (1005, 620), (1011, 620), (1017, 618), (1023, 618), (1029, 618),
    (1035, 618), (975, 625), (981, 625), (987, 625), (993, 626), (999, 626), (1005, 626), (1011, 626), (1017, 624),
    (1023, 624), (1028, 623), (1034, 623), (1000, 631), (1005, 631), (994, 631), (1013, 631), (1019, 630), (1005, 637),
]
sites_oceania = [
    (1083, 708), (1093, 712), (1096, 714), (1111, 715), (1109, 718), (1121, 719), (1126, 723), (1123, 727), (1130, 729),
    (1134, 732), (1139, 732), (1146, 730), (1138, 719), (1143, 710), (1144, 714), (1168, 728), (1169, 732), (1225, 759),
    (1074, 739), (1095, 741), (1094, 746), (1078, 743), (1079, 747), (1089, 750), (1093, 754), (1070, 751), (1076, 753),
    (1067, 757), (1065, 761), (1068, 762), (1072, 763), (1074, 767), (1100, 759), (1086, 765), (1093, 766), (1068, 774),
    (1077, 773), (1084, 771), (1091, 772), (1084, 776), (1089, 777), (1082, 783), (1086, 782), (1068, 783), (1070, 786),
    (1069, 796), (1103, 765), (1106, 769), (1107, 773), (1111, 739), (1111, 743), (1119, 747), (1121, 754), (1123, 758),
    (1118, 758), (1117, 762), (1116, 765), (1121, 766), (1127, 767), (1130, 770), (1126, 772), (1133, 775), (1126, 777),
    (1138, 779), (1135, 782), (1142, 783), (1137, 787), (1143, 790), (1147, 792), (1145, 796), (1140, 798), (1053, 753),
    (1052, 757), (1057, 760), (1049, 763), (1048, 769), (1040, 767), (1035, 768), (1030, 769), (1028, 774), (1033, 774),
    (1040, 773), (1044, 772), (1025, 776), (1021, 779), (1030, 779), (1043, 778), (1051, 777), (1021, 786), (1029, 784),
    (1036, 784), (1041, 784), (1029, 789), (1033, 789), (1041, 789), (1053, 790), (1054, 793), (1046, 793), (1032, 795),
    (1041, 795), (1057, 798), (1050, 797), (1026, 800), (1032, 803), (1039, 802), (1045, 802), (1053, 803), (1030, 809),
    (1027, 813), (1037, 815), (1042, 813), (1048, 808), (1039, 806), (1080, 802), (1083, 807), (1088, 798), (1090, 800),
    (1087, 803), (1095, 803), (1102, 804), (1108, 806), (1088, 809), (1094, 809), (1092, 813), (1097, 814), (1102, 818),
    (1099, 813), (1109, 812), (1116, 813), (1124, 805), (1127, 807), (1130, 810), (1133, 811), (1138, 803), (1142, 803),
    (1138, 813), (1137, 817), (1131, 818), (1125, 819), (1115, 823), (1120, 823), (1112, 827), (1125, 827), (1132, 827),
    (1126, 829), (1118, 836), (1122, 841), (1131, 842), (1127, 846), (1219, 826), (1215, 829), (1215, 836), (1206, 842),
    (1232, 847), (1202, 856),
]

stage_swatch = ["#FF0000", "#FF9A00", "#77FF00", "#1A78E8", "#2000FF"]
# blue and purple let the map show through a little, as on the East Asia donut
stage_fill = ["#FF2400", "#FFB136", "#90FF00", "rgba(39,132,233,0.85)", "rgba(49,21,255,0.85)"]
oceania_fill = ["#FF2400", "#FFB136", "#90FF00", "#70ACF2", "#7766FF"]
LAND = "#C2F1F6"
LINK = "#B4ECF2"
BLUE = "#0E66E6"
FONT = "Inter"
FONT_NARROW = "Lato"

fig = go.Figure()
annots = []
shapes = []


def note(x, y, text, size, color="#111111", anchor="center", family=FONT, weight=None):
    # left-anchored text carries about 3px of padding
    if anchor == "left":
        x = x - 3
    annots.append(dict(x=x, y=y, xref="x", yref="y", text=text, showarrow=False, xanchor=anchor, yanchor="middle",
                       font=dict(size=size, color=color, family=family, weight=weight)))


#-- header band
fig.add_trace(go.Scatter(x=[0, W, W, 0], y=[0, 0, 71, 71], mode="none", fill="toself",
                         fillgradient=dict(type="horizontal", colorscale=[[0, "#0483E8"], [0.5, "#0552E4"], [1, "#1408DF"]]),
                         hoverinfo="skip", showlegend=False))
note(750, 35, "GLOBAL MINING PROJECT DEVELOPMENT", 55.5, "white", family=FONT, weight=700)

#-- map
for poly in land:
    xs, ys = zip(*poly)
    fig.add_trace(go.Scatter(x=xs, y=ys, mode="none", fill="toself", fillcolor=LAND, hoverinfo="skip", showlegend=False))
for poly in inland_seas:
    xs, ys = zip(*poly)
    fig.add_trace(go.Scatter(x=xs, y=ys, mode="none", fill="toself", fillcolor="white", hoverinfo="skip", showlegend=False))
for link in connectors:
    xs, ys = zip(*link)
    fig.add_trace(go.Scatter(x=xs, y=ys, mode="lines", line=dict(color=LINK, width=2.5), hoverinfo="skip", showlegend=False))

sites = sites_north_america + sites_south_america + sites_europe + sites_africa + sites_asia + sites_oceania
site_x, site_y = zip(*sites)
fig.add_trace(go.Scatter(x=site_x, y=site_y, mode="markers", showlegend=False, name="Project Locations",
                         marker=dict(size=6, color="#FF1A00", line=dict(color="#FFEDE8", width=1))))

#-- donuts
for i, region in enumerate(regions):
    cx, cy = pie_centers[i]
    e = slice_edges[i]
    fig.add_trace(go.Pie(
        labels=stages, name=region,
        values=[e[0], e[1] - e[0], e[2] - e[1], e[3] - e[2], 360 - e[3]],
        customdata=[exploration[i], scoping[i], advanced[i], approval[i], construction[i]],
        hovertemplate="%{label}: $%{customdata} B<extra>" + region + "</extra>",
        sort=False, direction="clockwise", rotation=0, hole=0.54, textinfo="none", showlegend=False,
        marker=dict(colors=oceania_fill if region == "Oceania" else stage_fill, line=dict(width=0)),
        domain=dict(x=[(cx - 100) / W, (cx + 100) / W], y=[1 - (cy + 100) / H, 1 - (cy - 100) / H])))
    shapes.append(dict(type="circle", xref="x", yref="y", x0=cx - 107, x1=cx + 107, y0=cy - 107, y1=cy + 107,
                       line=dict(color="#BDEEF4", width=2.5), layer="above"))
    rows = center_rows[i]
    tx = cx + center_shift[i]
    for line, y in zip(center_titles[i], rows):
        note(tx, y, line, 20, BLUE, weight=800)
    note(tx, rows[-2], totals[i], 22, BLUE, family=FONT_NARROW)
    note(tx, rows[-1], "Billion", 17, BLUE)

#-- callouts
for text, tx, far, knee, uy, dx, dy in callouts:
    note(tx, uy - 9, text, 15, BLUE, family=FONT_NARROW, weight=500)
    shapes.append(dict(type="path", xref="x", yref="y", path=f"M{far},{uy} L{knee},{uy} L{dx},{dy}",
                       line=dict(color="#0E66E6", width=1.3), layer="above"))
    shapes.append(dict(type="circle", xref="x", yref="y", x0=dx - 3, x1=dx + 3, y0=dy - 3, y1=dy + 3,
                       line=dict(color="#0E66E6", width=1.3), layer="above"))

#-- logo and notes
fig.add_trace(go.Scatter(x=[47], y=[100], mode="markers", hoverinfo="skip", showlegend=False,
                         marker=dict(size=20, color="#2C7FE8", line=dict(color="#FF8A3C", width=1.5))))
for swirl in ["M39,96 Q47,90 55,97", "M38,103 Q46,108 54,104", "M44,91 Q41,100 46,110", "M50,91 Q54,100 49,110"]:
    shapes.append(dict(type="path", xref="x", yref="y", path=swirl, line=dict(color="white", width=1), layer="above"))
note(65, 101, 'Industrial Info <span style="color:#FF5000">Resources</span>', 28, "#1410D0", "left", "Open Sans", 600)
note(36, 129.5, "All data derived from Industrial Info's Database(December 2020)", 13.8, "#222222", "left")
note(36, 145.5, "© 2020 by Industrial Info Resources, Inc. - Sugar Land, TX", 13.8, "#222222", "left")
note(36, 414, "* Dollar amounts represent Total Investment Value", 14.2, "#222222", "left")
note(36, 430, "of active mining projects", 14.2, "#222222", "left")

#-- key
key_y = [189, 226, 263, 301, 338]
fig.add_trace(go.Scatter(x=[55] * 5, y=key_y, mode="markers", hoverinfo="skip", showlegend=False,
                         marker=dict(size=16, symbol="square", color=stage_swatch)))
fig.add_trace(go.Scatter(x=[56], y=[376], mode="markers", hoverinfo="skip", showlegend=False,
                         marker=dict(size=17, color="#FF2A0A")))
for name, y in zip(stages + ["Project Locations"], key_y + [376]):
    note(81, y, name, 28, "#0C0C0C", "left", weight=500)

fig.update_layout(width=W, height=H, margin=dict(l=0, r=0, t=0, b=0), paper_bgcolor="white", plot_bgcolor="white",
                  showlegend=False, annotations=annots, shapes=shapes,
                  xaxis=dict(range=[0, W], visible=False, fixedrange=True),
                  yaxis=dict(range=[H, 0], visible=False, fixedrange=True))

fig.write_html("out.html", config=dict(displayModeBar=False), post_script="document.body.style.margin='0';")
